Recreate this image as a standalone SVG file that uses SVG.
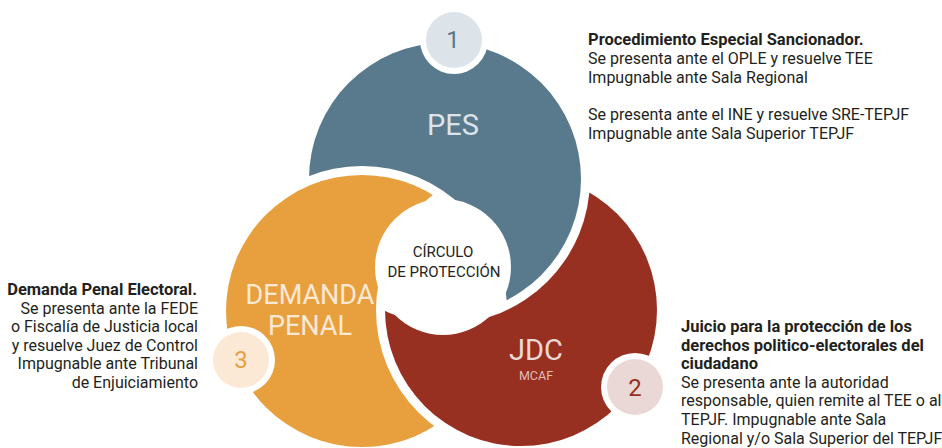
<svg xmlns="http://www.w3.org/2000/svg" width="942" height="448" viewBox="0 0 942 448">
<style>
  .lbl{font-family:Roboto,"Liberation Sans",sans-serif;text-anchor:middle}
  .big{font-size:29px}
  .mid{font-size:27px}
  .num{font-size:24px}
  .ctr{font-size:15px;fill:#231f20}
  .desc{font-family:Roboto,"Liberation Sans",sans-serif;font-size:16px;fill:#231f20}
  .b{font-weight:bold;font-size:16.5px}
  .ring{fill:#ffffff}
</style>
<defs>
  <mask id="mBlue" maskUnits="userSpaceOnUse" x="0" y="0" width="942" height="448">
    <rect width="942" height="448" fill="#fff"/>
    <circle cx="362" cy="311" r="145" fill="#000"/>
    <circle cx="443" cy="267" r="68" fill="#000"/>
  </mask>
  <mask id="mOrange" maskUnits="userSpaceOnUse" x="0" y="0" width="942" height="448">
    <rect width="942" height="448" fill="#fff"/>
    <circle cx="521" cy="310" r="145" fill="#000"/>
    <circle cx="443" cy="267" r="68" fill="#000"/>
  </mask>
  <mask id="mRed" maskUnits="userSpaceOnUse" x="0" y="0" width="942" height="448">
    <rect width="942" height="448" fill="#fff"/>
    <circle cx="445" cy="179" r="145" fill="#000"/>
    <circle cx="443" cy="267" r="68" fill="#000"/>
  </mask>
</defs>
<rect width="942" height="448" fill="#ffffff"/>

<g id="node-pes">
  <circle cx="445" cy="179" r="136" fill="#587a8c" mask="url(#mBlue)"/>
  <text class="lbl big" x="453" y="135" fill="#dde4e9">PES</text>
</g>
<g id="node-jdc">
  <circle cx="521" cy="310" r="136" fill="#983021" mask="url(#mRed)"/>
  <text class="lbl big" x="536" y="360" fill="#ead8d6">JDC</text>
  <text class="lbl" x="536" y="380" font-size="12.5" fill="#e2bcb6">MCAF</text>
</g>
<g id="node-demanda">
  <circle cx="362" cy="311" r="136" fill="#e8a03e" mask="url(#mOrange)"/>
  <text class="lbl mid" x="310" y="304" fill="#fbe9d6">DEMANDA</text>
  <text class="lbl mid" x="310" y="335" fill="#fbe9d6">PENAL</text>
</g>
<g id="node-center">
  <text class="lbl ctr" x="443" y="257">CÍRCULO</text>
  <text class="lbl ctr" x="444" y="277">DE PROTECCIÓN</text>
</g>

<g id="badge-1">
  <circle class="ring" cx="454" cy="40" r="34"/>
  <circle cx="454" cy="40" r="28" fill="#dde4e9"/>
  <text class="lbl num" x="453" y="48" fill="#587a8c">1</text>
</g>
<g id="badge-2">
  <circle class="ring" cx="635" cy="387" r="34"/>
  <circle cx="635" cy="387" r="28" fill="#ead8d6"/>
  <text class="lbl num" x="635" y="396" fill="#983021">2</text>
</g>
<g id="badge-3">
  <circle class="ring" cx="241" cy="360" r="34"/>
  <circle cx="241" cy="360" r="28" fill="#fbe9d6"/>
  <text class="lbl num" x="241" y="368" fill="#e8a03e">3</text>
</g>

<g id="connectors"/>

<g id="text-pes" class="desc">
  <text class="b" x="588" y="45">Procedimiento Especial Sancionador.</text>
  <text x="588" y="64">Se presenta ante el OPLE y resuelve TEE</text>
  <text x="588" y="83">Impugnable ante Sala Regional</text>
  <text x="588" y="120">Se presenta ante el INE y resuelve SRE-TEPJF</text>
  <text x="588" y="139">Impugnable ante Sala Superior TEPJF</text>
</g>
<g id="text-jdc" class="desc">
  <text class="b" x="681" y="332">Juicio para la protección de los</text>
  <text class="b" x="681" y="350.6">derechos politico-electorales del</text>
  <text class="b" x="681" y="369.2">ciudadano</text>
  <text x="681" y="387.8">Se presenta ante la autoridad</text>
  <text x="681" y="406.4">responsable, quien remite al TEE o al</text>
  <text x="681" y="425">TEPJF. Impugnable ante Sala</text>
  <text x="681" y="443.6">Regional y/o Sala Superior del TEPJF</text>
</g>
<g id="text-demanda" class="desc" text-anchor="end">
  <text class="b" x="197" y="295">Demanda Penal Electoral.</text>
  <text x="198" y="313.6">Se presenta ante la FEDE</text>
  <text x="198" y="332.2">o Fiscalía de Justicia local</text>
  <text x="198" y="350.8">y resuelve Juez de Control</text>
  <text x="198" y="369.4">Impugnable ante Tribunal</text>
  <text x="198" y="388">de Enjuiciamiento</text>
</g>
</svg>
